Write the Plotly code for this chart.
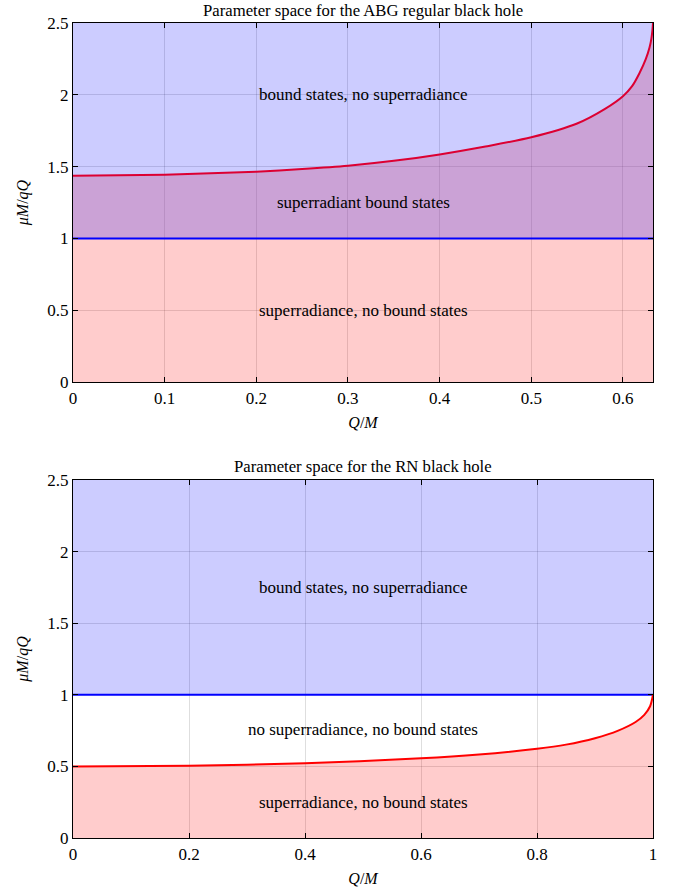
import plotly.graph_objects as go

# ---- data ----
abg_q = [0.0, 0.05, 0.1, 0.15, 0.2, 0.25, 0.3, 0.35, 0.4, 0.45, 0.5, 0.55, 0.58, 0.6, 0.61, 0.618, 0.625, 0.629, 0.631, 0.6322, 0.6328]
abg_mu = [1.437, 1.439, 1.444, 1.453, 1.465, 1.483, 1.506, 1.540, 1.585, 1.640, 1.704, 1.800, 1.900, 1.990, 2.06, 2.15, 2.25, 2.33, 2.39, 2.45, 2.5]

rn_q = [0.0, 0.2, 0.4, 0.6, 0.7, 0.8, 0.85, 0.9, 0.94, 0.97, 0.985, 0.995, 1.0]
rn_mu = [0.5, 0.505, 0.522, 0.556, 0.583, 0.623, 0.652, 0.697, 0.75, 0.81, 0.86, 0.92, 1.0]

abg_xmax = 0.6328
rn_xmax = 1.0
y_bound = 1.0
y_top = 2.5

abg_xticks = [0, 0.1, 0.2, 0.3, 0.4, 0.5, 0.6]
abg_xticktext = ["0", "0.1", "0.2", "0.3", "0.4", "0.5", "0.6"]
rn_xticks = [0, 0.2, 0.4, 0.6, 0.8, 1.0]
rn_xticktext = ["0", "0.2", "0.4", "0.6", "0.8", "1"]
yticks = [0, 0.5, 1, 1.5, 2, 2.5]
yticktext = ["0", "0.5", "1", "1.5", "2", "2.5"]

titles = ["Parameter space for the ABG regular black hole", "Parameter space for the RN black hole"]
abg_labels = [("bound states, no superradiance", 2.0), ("superradiant bound states", 1.25), ("superradiance, no bound states", 0.5)]
rn_labels = [("bound states, no superradiance", 1.75), ("no superradiance, no bound states", 0.755), ("superradiance, no bound states", 0.25)]

# ---- styles ----
FONT = "Liberation Serif"
LAV = "rgba(0,0,255,0.2)"
PINK = "rgba(255,0,0,0.2)"
PURPLE = "rgba(139,48,164,0.45)"
NOFILL = dict(width=0)
SPL = dict(shape="spline", smoothing=0.8)

fig = go.Figure()

# ===== top: ABG =====
xa = [0, abg_xmax]
fig.add_trace(go.Scatter(x=xa, y=[y_bound, y_bound], mode="lines", line=NOFILL, fill="tozeroy",
                         fillcolor=PINK, xaxis="x", yaxis="y", hoverinfo="skip"))
fig.add_trace(go.Scatter(x=abg_q, y=abg_mu, mode="lines", line=dict(width=0, **SPL),
                         fill="tonexty", fillcolor=PURPLE, xaxis="x", yaxis="y", hoverinfo="skip"))
fig.add_trace(go.Scatter(x=xa, y=[y_top, y_top], mode="lines", line=NOFILL, fill="tonexty",
                         fillcolor=LAV, xaxis="x", yaxis="y", hoverinfo="skip"))
fig.add_trace(go.Scatter(x=xa, y=[y_bound, y_bound], mode="lines", line=dict(color="#0000ff", width=2),
                         xaxis="x", yaxis="y"))
fig.add_trace(go.Scatter(x=abg_q, y=abg_mu, mode="lines",
                         line=dict(color="#dc0032", width=2, **SPL),
                         xaxis="x", yaxis="y"))

# ===== bottom: RN =====
xb = [0, rn_xmax]
fig.add_trace(go.Scatter(x=rn_q, y=rn_mu, mode="lines", line=dict(width=0, **SPL),
                         fill="tozeroy", fillcolor=PINK, xaxis="x2", yaxis="y2", hoverinfo="skip"))
fig.add_trace(go.Scatter(x=xb, y=[y_bound, y_bound], mode="lines", line=NOFILL,
                         xaxis="x2", yaxis="y2", hoverinfo="skip"))
fig.add_trace(go.Scatter(x=xb, y=[y_top, y_top], mode="lines", line=NOFILL, fill="tonexty",
                         fillcolor=LAV, xaxis="x2", yaxis="y2", hoverinfo="skip"))
fig.add_trace(go.Scatter(x=xb, y=[y_bound, y_bound], mode="lines", line=dict(color="#0000ff", width=2),
                         xaxis="x2", yaxis="y2"))
fig.add_trace(go.Scatter(x=rn_q, y=rn_mu, mode="lines",
                         line=dict(color="#ff0000", width=2, **SPL),
                         xaxis="x2", yaxis="y2"))

axis_common = dict(showline=True, linecolor="black", linewidth=1.2, mirror="ticks",
                   ticks="inside", ticklen=5, tickcolor="black", tickwidth=1.2,
                   showgrid=True, gridcolor="rgba(0,0,0,0.13)", gridwidth=1,
                   zeroline=False, automargin=False,
                   tickfont=dict(family=FONT, size=17, color="black"))

ytitle = dict(text="<i>μM</i>/<i>qQ</i>", font=dict(family=FONT, size=16, color="black"), standoff=14)
xtitle = dict(text="<i>Q</i>/<i>M</i>", font=dict(family=FONT, size=16, color="black"), standoff=10)

fig.update_layout(
    width=678, height=894,
    margin=dict(l=73, r=25, t=23, b=56),
    paper_bgcolor="white", plot_bgcolor="white",
    showlegend=False,
    xaxis=dict(domain=[0, 1], range=[0, abg_xmax], tickvals=abg_xticks, ticktext=abg_xticktext,
               anchor="y", title=xtitle, **axis_common),
    yaxis=dict(domain=[0.5595, 1], range=[0, y_top], tickvals=yticks, ticktext=yticktext,
               anchor="x", title=ytitle, **axis_common),
    xaxis2=dict(domain=[0, 1], range=[0, rn_xmax], tickvals=rn_xticks, ticktext=rn_xticktext,
                anchor="y2", title=xtitle, **axis_common),
    yaxis2=dict(domain=[0, 0.4393], range=[0, y_top], tickvals=yticks, ticktext=yticktext,
                anchor="x2", title=ytitle, **axis_common),
)

ann = []
ann.append(dict(text=titles[0], xref="paper", yref="paper", x=0.5, y=1.0, yshift=13, yanchor="middle",
                showarrow=False, font=dict(family=FONT, size=16.7, color="black")))
ann.append(dict(text=titles[1], xref="paper", yref="paper", x=0.5, y=0.4393, yshift=13, yanchor="middle",
                showarrow=False, font=dict(family=FONT, size=16.7, color="black")))
for t, yv in abg_labels:
    ann.append(dict(text=t, xref="x", yref="y", x=abg_xmax / 2, y=yv, showarrow=False,
                    font=dict(family=FONT, size=17, color="black")))
for t, yv in rn_labels:
    ann.append(dict(text=t, xref="x2", yref="y2", x=rn_xmax / 2, y=yv, showarrow=False,
                    font=dict(family=FONT, size=17, color="black")))
fig.update_layout(annotations=ann)

fig.write_html("out.html", config={"displayModeBar": False},
               post_script="document.body.style.margin='0px';")
